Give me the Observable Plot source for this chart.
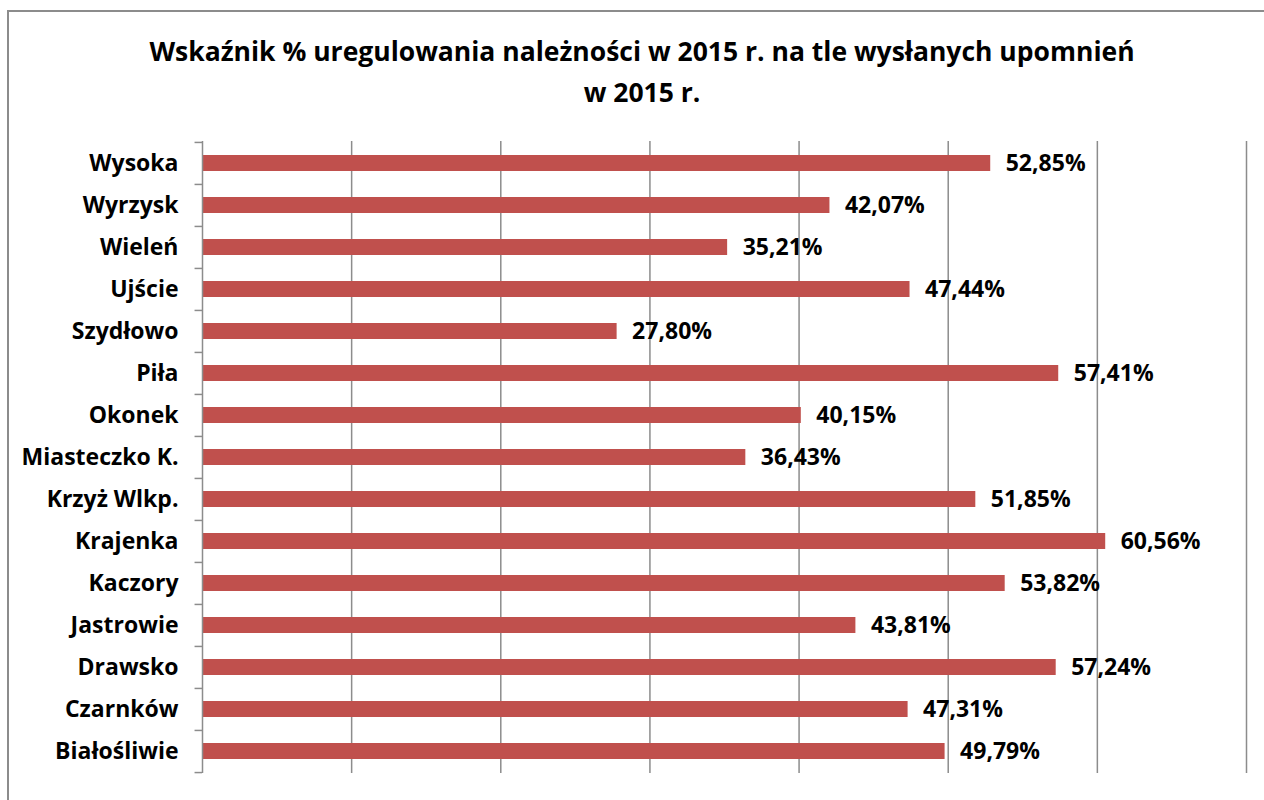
<!DOCTYPE html>
<html>
<head>
<meta charset="utf-8">
<script src="https://cdn.jsdelivr.net/npm/d3@7"></script>
<script src="https://cdn.jsdelivr.net/npm/@observablehq/plot@0.6"></script>
<style>
  html, body { margin: 0; padding: 0; background: #fff; overflow: hidden; }
  body { width: 1264px; height: 800px; position: relative; font-family: "Open Sans", sans-serif; }
  #frame { position: absolute; left: 7px; top: 10px; width: 1400px; height: 900px; border: 2px solid #8c8c8c; box-sizing: border-box; }
  #title { position: absolute; left: 10px; top: 31px; width: 1264px; text-align: center; font-weight: bold; font-size: 26.5px; line-height: 41px; color: #000; }
  #chart { position: absolute; left: 0; top: 120px; }
</style>
</head>
<body>
<div id="frame"></div>
<div id="title">Wskaźnik % uregulowania należności w 2015 r. na tle wysłanych upomnień<br>w 2015 r.</div>
<div id="chart"></div>
<script>
const categories = ["Wysoka", "Wyrzysk", "Wieleń", "Ujście", "Szydłowo", "Piła", "Okonek", "Miasteczko K.", "Krzyż Wlkp.", "Krajenka", "Kaczory", "Jastrowie", "Drawsko", "Czarnków", "Białośliwie"];
const values = [52.85, 42.07, 35.21, 47.44, 27.80, 57.41, 40.15, 36.43, 51.85, 60.56, 53.82, 43.81, 57.24, 47.31, 49.79];
const xTicks = [10, 20, 30, 40, 50, 60, 70];

const data = categories.map((c, i) => ({name: c, value: values[i]}));
const fmt = v => v.toFixed(2).replace(".", ",") + "%";

const height = 680, marginTop = 21, marginBottom = 27;
const band = (height - marginTop - marginBottom) / categories.length;

const chart = Plot.plot({
  width: 1264,
  height,
  marginTop,
  marginBottom,
  marginLeft: 202,
  marginRight: 18,
  style: {fontFamily: "'Open Sans', sans-serif", background: "transparent"},
  x: {domain: [0, 70], axis: null},
  y: {domain: categories, padding: 0, label: null},
  marks: [
    Plot.ruleX(xTicks, {stroke: "#8c8c8c", strokeWidth: 1.5, strokeOpacity: 1}),
    Plot.barX(data, {x: "value", y: "name", fill: "#C0504D", insetTop: 13, insetBottom: 13}),
    Plot.ruleX([0], {stroke: "#8c8c8c", strokeWidth: 1.5}),
    Plot.ruleY(categories, {y: d => d, x1: -0.5, x2: 0, dy: -band / 2, stroke: "#8c8c8c", strokeWidth: 1.5}),
    Plot.ruleY([categories[categories.length - 1]], {y: d => d, x1: -0.5, x2: 0, dy: band / 2, stroke: "#8c8c8c", strokeWidth: 1.5}),
    Plot.text(data, {x: "value", y: "name", text: d => fmt(d.value), textAnchor: "start", dx: 15, fontSize: 23, fontWeight: "bold", fill: "#000"}),
    Plot.axisY({tickSize: 0, tickPadding: 24, fontSize: 23, fontWeight: "bold", color: "#000", label: null})
  ]
});
document.getElementById("chart").appendChild(chart);
</script>
</body>
</html>
